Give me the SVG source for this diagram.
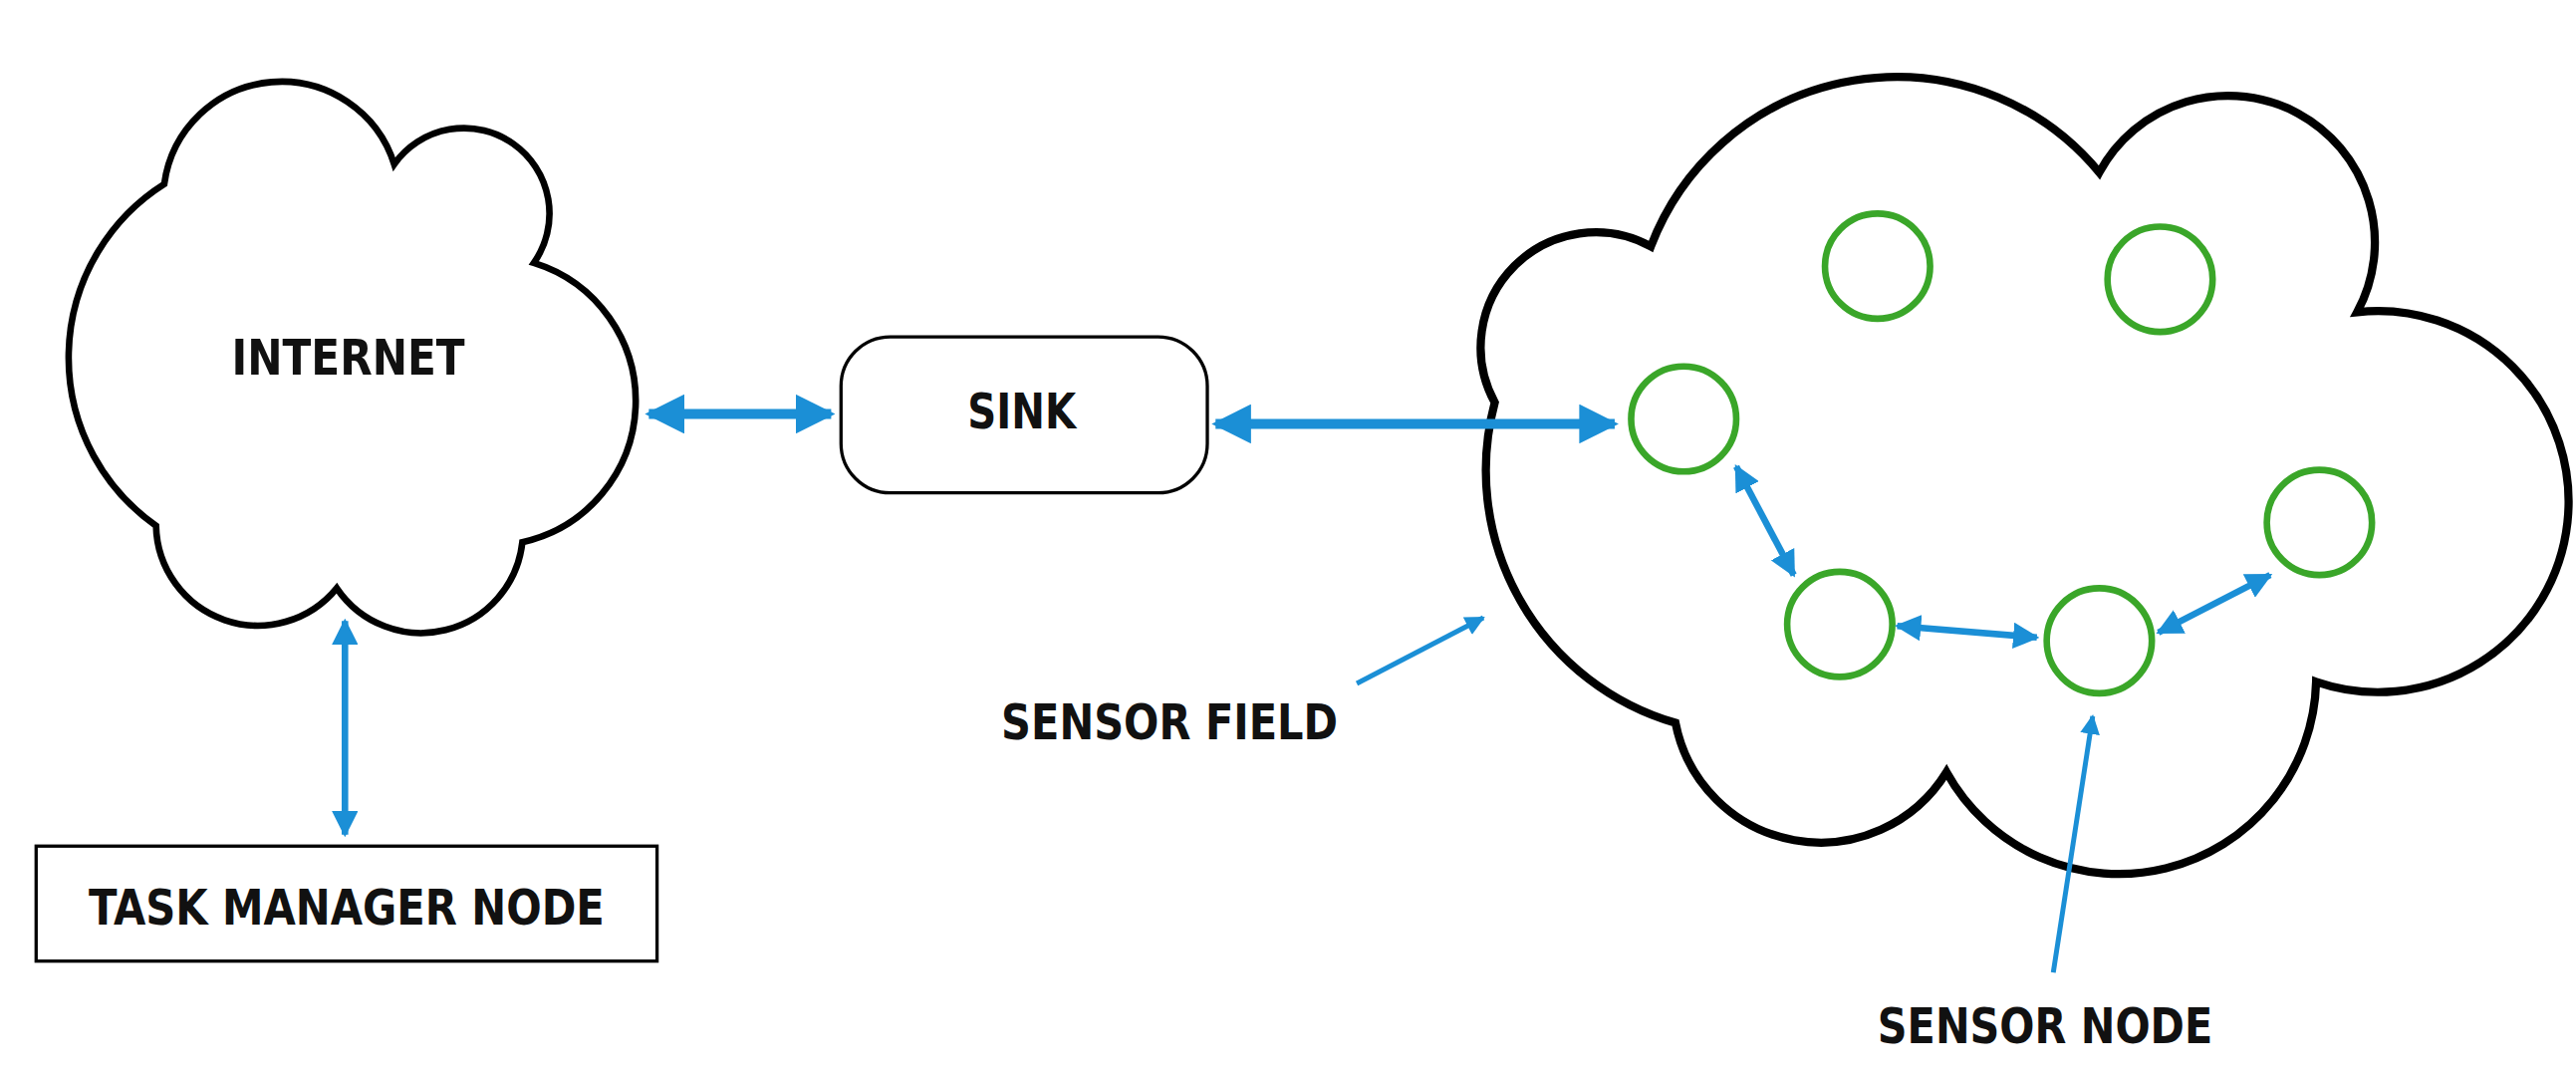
<svg xmlns="http://www.w3.org/2000/svg" width="2586" height="1086" viewBox="0 0 2586 1086">
<style>
.cloud{fill:#fff;stroke:#000;stroke-width:4}
.big{stroke-width:5}
.box{fill:#fff;stroke:#000;stroke-width:2}
.lbl{font-family:"DejaVu Sans Condensed","DejaVu Sans",sans-serif;font-weight:bold;font-size:30px;fill:#111;text-anchor:middle}
.sn{fill:none;stroke:#3aa629;stroke-width:4}
.ar{stroke:#1b8fd6;stroke-width:4;fill:none;marker-start:url(#ah);marker-end:url(#ah)}
.thick{stroke-width:6}
.ar1{stroke:#1b8fd6;stroke-width:3;fill:none;marker-end:url(#ah)}
</style>
<defs>
<marker id="ah" viewBox="0 0 10 10" refX="9" refY="5" markerWidth="4" markerHeight="4" orient="auto-start-reverse" markerUnits="strokeWidth">
<path d="M0,0 L10,5 L0,10 z" fill="#1b8fd6"/>
</marker>
</defs>
<rect width="2586" height="1086" fill="#fff"/>
<g transform="scale(1.649)">
<g id="internet">
<path class="cloud" d="M100,112 A72,72 0 0 1 240,100 A45,45 0 0 1 325,160 A88,88 0 0 1 318,330 A62,62 0 0 1 205,358 A62,62 0 0 1 95,320 A125,125 0 0 1 100,112 Z"/>
<text class="lbl" x="212" y="228" textLength="142" lengthAdjust="spacingAndGlyphs">INTERNET</text>
</g>
<g id="sink">
<rect class="box" x="512" y="205" width="223" height="95" rx="30"/>
<text class="lbl" x="622" y="261" textLength="66" lengthAdjust="spacingAndGlyphs">SINK</text>
</g>
<g id="task">
<rect class="box" x="22" y="515" width="378" height="70"/>
<text class="lbl" x="211" y="563" textLength="314" lengthAdjust="spacingAndGlyphs">TASK MANAGER NODE</text>
</g>
<g id="field">
<path class="cloud big" d="M1005,150 A160,160 0 0 1 1278,105 A88,88 0 0 1 1435,190 A116,116 0 1 1 1410,415 A120,120 0 0 1 1185,470 A90,90 0 0 1 1020,440 A160,160 0 0 1 910,245 A70,70 0 0 1 1005,150 Z"/>
</g>
<g id="nodes">
<circle class="sn" cx="1143" cy="162" r="32"/>
<circle class="sn" cx="1315" cy="170" r="32"/>
<circle class="sn" cx="1025" cy="255" r="32"/>
<circle class="sn" cx="1120" cy="380" r="32"/>
<circle class="sn" cx="1278" cy="390" r="32"/>
<circle class="sn" cx="1412" cy="318" r="32"/>
</g>
<g id="labels">
<text class="lbl" x="712" y="450" textLength="205" lengthAdjust="spacingAndGlyphs">SENSOR FIELD</text>
<text class="lbl" x="1245" y="635" textLength="204" lengthAdjust="spacingAndGlyphs">SENSOR NODE</text>
</g>
<g id="connectors">
<line class="ar thick" x1="395" y1="252" x2="506" y2="252"/>
<line class="ar thick" x1="740" y1="258" x2="983" y2="258"/>
<line class="ar" x1="210" y1="378" x2="210" y2="508"/>
<line class="ar" x1="1057" y1="284" x2="1092" y2="350"/>
<line class="ar" x1="1155" y1="381" x2="1240" y2="388"/>
<line class="ar" x1="1314" y1="385" x2="1382" y2="350"/>
<line class="ar1" x1="826" y1="416" x2="903" y2="376"/>
<line class="ar1" x1="1250" y1="592" x2="1274" y2="436"/>
</g>
</g>
</svg>
